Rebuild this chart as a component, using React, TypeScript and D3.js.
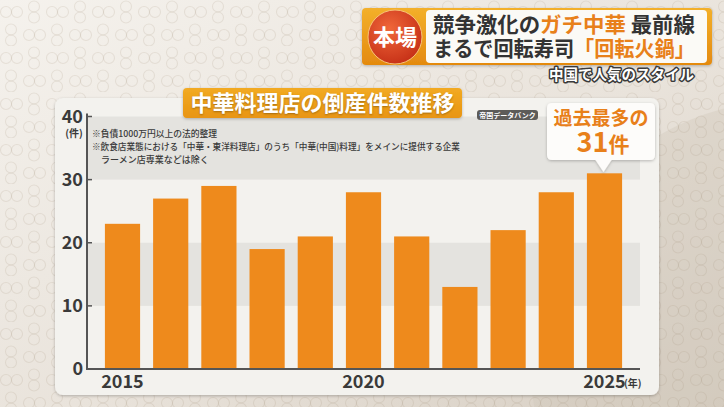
import React from "react";
import * as d3 from "d3";

const years = ["2015", "2016", "2017", "2018", "2019", "2020", "2021", "2022", "2023", "2024", "2025"];
const counts = [23, 27, 29, 19, 21, 28, 21, 13, 22, 28, 31];
const yTicks = [0, 10, 20, 30, 40];
const labeledYears = ["2015", "2020", "2025"];
const shadedBands = [[10, 20], [30, 40]];
const notes = [
  "※負債1000万円以上の法的整理",
  "※飲食店業態における「中華・東洋料理店」のうち「中華(中国)料理」をメインに提供する企業",
  "　ラーメン店専業などは除く",
];
const noteWidths = [125, 368, 0];
const title = "中華料理店の倒産件数推移";
const source = "帝国データバンク";
const calloutLines = ["過去最多の", "31件"];

const W = 724;
const H = 407;
const JP = "'Noto Sans CJK JP', 'Noto Sans', sans-serif";

export default function App() {
  const x = d3.scaleBand<string>().domain(years).range([98.4, 628.6]).paddingInner(0.27).paddingOuter(0.135);
  const y = d3.scaleLinear().domain([0, 40]).range([369, 116.5]);
  const axisLeft = 87;
  const axisRight = 640;
  const orange = "#ee8a1c";
  const last = years[years.length - 1];
  const lastCx = (x(last) ?? 0) + x.bandwidth() / 2;

  return (
    <div style={{ position: "absolute", left: 0, top: 0, width: W, height: H }}>
      <svg width={W} height={H} viewBox={`0 0 ${W} ${H}`} style={{ display: "block" }}>
        <defs>
          <linearGradient id="bg" x1="0" y1="0" x2="1" y2="1">
            <stop offset="0" stopColor="#f5f2ed" />
            <stop offset="0.55" stopColor="#e9e3db" />
            <stop offset="1" stopColor="#d6cdc1" />
          </linearGradient>
          <pattern id="rings" width="46" height="46" patternUnits="userSpaceOnUse">
            <g fill="none" stroke="#a08c76" strokeOpacity="0.17" strokeWidth="1.1">
              <circle cx="6" cy="12" r="5.5" />
              <circle cx="17" cy="12" r="5.5" />
              <circle cx="34" cy="6.5" r="5.5" />
              <circle cx="34" cy="17.5" r="5.5" />
              <circle cx="29" cy="35" r="5.5" />
              <circle cx="40" cy="35" r="5.5" />
              <circle cx="11" cy="29.5" r="5.5" />
              <circle cx="11" cy="40.5" r="5.5" />
            </g>
          </pattern>
          <linearGradient id="gold" x1="0" y1="0" x2="0" y2="1">
            <stop offset="0" stopColor="#f3b02a" />
            <stop offset="1" stopColor="#e48a10" />
          </linearGradient>
          <radialGradient id="red" cx="0.4" cy="0.35" r="0.7">
            <stop offset="0" stopColor="#f0673a" />
            <stop offset="1" stopColor="#c52f16" />
          </radialGradient>
          <linearGradient id="titleG" x1="0" y1="0" x2="0" y2="1">
            <stop offset="0" stopColor="#f2aa22" />
            <stop offset="1" stopColor="#e89512" />
          </linearGradient>
          <filter id="sh" x="-10%" y="-10%" width="120%" height="130%">
            <feDropShadow dx="0" dy="1" stdDeviation="1.5" floodColor="#000" floodOpacity="0.25" />
          </filter>
        </defs>

        {/* background */}
        <rect x={0} y={0} width={W} height={H} fill="url(#bg)" />
        <circle cx={790} cy={360} r={260} fill="#cfc5b8" opacity={0.35} />
        <rect x={0} y={0} width={W} height={H} fill="url(#rings)" />

        {/* header */}
        <rect x={362} y={8} width={350} height={57} rx={4} fill="url(#gold)" filter="url(#sh)" />
        <rect x={426} y={10} width={281} height={53} rx={4} fill="#fbfaf6" />
        <circle cx={395} cy={37} r={27} fill="url(#red)" stroke="#f7c27a" strokeWidth={1} />
        <text x={395} y={45} textAnchor="middle" fontFamily={JP} fontWeight={700} fontSize={22} fill="#fff">本場</text>
        <text x={433} y={32} fontFamily={JP} fontWeight={700} fontSize={21} fill="#333" textLength={262} lengthAdjust="spacingAndGlyphs">
          競争激化の<tspan fill="#e8801a">ガチ中華</tspan> 最前線
        </text>
        <text x={433} y={56} fontFamily={JP} fontWeight={700} fontSize={21} fill="#333" textLength={262} lengthAdjust="spacingAndGlyphs">
          まるで回転寿司<tspan fill="#e8801a">「回転火鍋」</tspan>
        </text>
        <text x={694} y={80} textAnchor="end" fontFamily={JP} fontWeight={700} fontSize={14.5}
          fill="#fff" stroke="#3a3a3a" strokeWidth={3} paintOrder="stroke" strokeLinejoin="round">中国で人気のスタイル</text>

        {/* panel */}
        <rect x={55} y={98} width={604} height={297} rx={8} fill="#f3f2ee" filter="url(#sh)" />

        {/* shaded bands */}
        {shadedBands.map(([a, b], i) => (
          <rect key={i} x={axisLeft + 1} y={y(b)} width={axisRight - axisLeft - 1} height={y(a) - y(b)} fill="#e4e3df" />
        ))}

        {/* title */}
        <rect x={183} y={88} width={279} height={30} rx={4} fill="url(#titleG)" filter="url(#sh)" />
        <text x={322.5} y={111} textAnchor="middle" fontFamily={JP} fontWeight={700} fontSize={22} fill="#fff"
          style={{ textShadow: "0 1px 2px rgba(0,0,0,0.3)" }}>{title}</text>

        {/* source tag */}
        <rect x={477} y={110} width={61} height={10} rx={3} fill="#5d5c59" />
        <text x={507.5} y={118} textAnchor="middle" fontFamily={JP} fontWeight={700} fontSize={7} fill="#fff">{source}</text>

        {/* notes */}
        {notes.map((n, i) => (
          <text key={i} x={92} y={136.5 + i * 13} fontFamily={JP} fontWeight={500} fontSize={9}
            fill="#3a3a3a" {...(noteWidths[i] ? { textLength: noteWidths[i], lengthAdjust: "spacingAndGlyphs" } : {})}>{n}</text>
        ))}

        {/* bars */}
        {years.map((yr, i) => (
          <rect key={yr} x={x(yr)} y={y(counts[i])} width={x.bandwidth()} height={y(0) - y(counts[i])} fill={orange} />
        ))}

        {/* axes */}
        <line x1={axisLeft} x2={axisLeft} y1={y(40) - 3} y2={y(0) + 1} stroke="#555" strokeWidth={2} />
        <line x1={axisLeft - 1} x2={axisRight} y1={y(0)} y2={y(0)} stroke="#555" strokeWidth={2} />
        {yTicks.filter((t) => t > 0).map((t) => (
          <line key={t} x1={axisLeft} x2={axisLeft + 5} y1={y(t)} y2={y(t)} stroke="#555" strokeWidth={1.5} />
        ))}
        {yTicks.map((t) => (
          <text key={t} x={83} y={y(t) + 6} textAnchor="end" fontFamily={JP} fontWeight={700} fontSize={18} fill="#3a3a3a">{t}</text>
        ))}
        <text x={74} y={137} textAnchor="middle" fontFamily={JP} fontWeight={700} fontSize={10} fill="#3a3a3a">(件)</text>

        {labeledYears.map((yr) => (
          <text key={yr} x={(x(yr) ?? 0) + x.bandwidth() / 2} y={388} textAnchor="middle" fontFamily={JP} fontWeight={700} fontSize={18} fill="#3a3a3a">{yr}</text>
        ))}
        <text x={624} y={387} fontFamily={JP} fontWeight={700} fontSize={10} fill="#3a3a3a">(年)</text>

        {/* callout */}
        <g filter="url(#sh)">
          <path d={`M547,108 Q547,103 552,103 L650,103 Q655,103 655,108 L655,155 Q655,160 650,160 L${lastCx + 7},160 L${lastCx - 1},172 L${lastCx - 9},160 L552,160 Q547,160 547,155 Z`} fill="#fdfcfa" />
        </g>
        <text x={601} y={125} textAnchor="middle" fontFamily={JP} fontWeight={700} fontSize={19} fill="#e8801a">{calloutLines[0]}</text>
        <text x={603} y={152} textAnchor="middle" fontFamily={JP} fontWeight={700} fontSize={24} fill="#e8801a">
          <tspan fontSize={27}>31</tspan><tspan fontSize={21}>件</tspan>
        </text>
      </svg>
    </div>
  );
}
